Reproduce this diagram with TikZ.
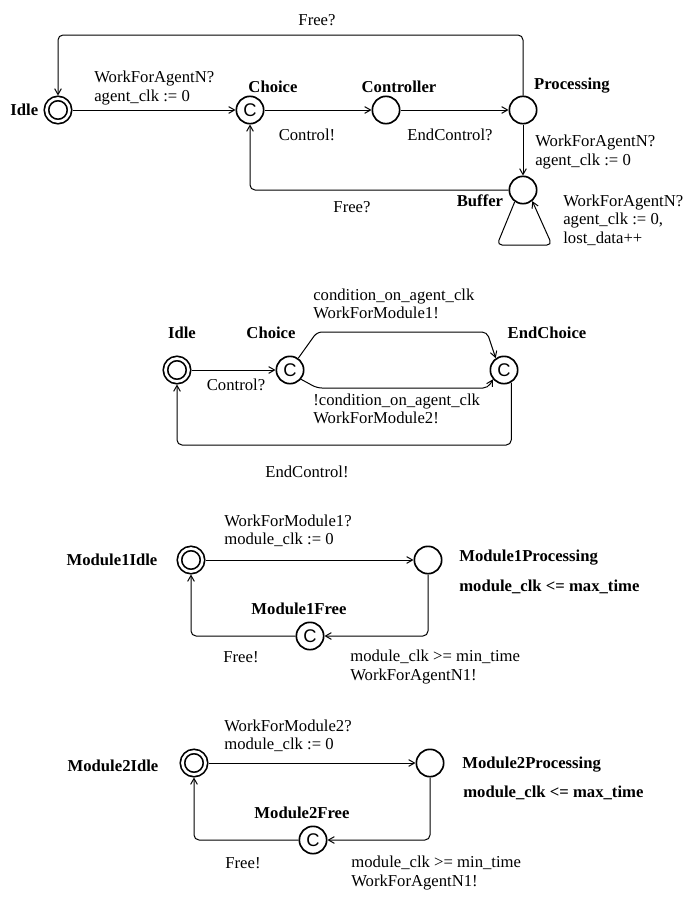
\documentclass[tikz,border=0pt]{standalone}
\usepackage{fontspec}
\setmainfont{Liberation Serif}
\setsansfont{Liberation Sans}
\usetikzlibrary{positioning,arrows.meta}

\begin{document}
\begin{tikzpicture}[
  x=0.6pt, y=-0.6pt,
  loc/.style={circle, draw, line width=1pt, minimum size=16.4pt, inner sep=0pt},
  initloc/.style={loc, minimum size=13.8pt, double, double distance=1.6pt, outer sep=1.8pt},
  comloc/.style={loc, font=\fontsize{11}{11}\sffamily},
  hdr/.style={font=\fontsize{10}{11}\selectfont\bfseries, inner sep=0pt},
  lbl/.style={font=\fontsize{10}{11}\selectfont, align=left, inner sep=0pt},
  arr/.style={-{Straight Barb[length=3.5pt, width=4pt]}, line width=0.6pt, rounded corners=3pt}
]
\useasboundingbox (0,0) rectangle (698,899);

% ===== Agent automaton =====
\node[initloc] (idle)   at (58,110)  {};
\node[comloc]  (choice) at (250,110) {C};
\node[loc]     (ctrl)   at (386,110) {};
\node[loc]     (proc)   at (523,110) {};
\node[loc]     (buf)    at (523,190) {};
\coordinate (topy)  at (0,35);
\coordinate (loopl) at (497,245);
\coordinate (loopr) at (552,245);
\draw[arr] (idle) -- (choice);
\draw[arr] (choice) -- (ctrl);
\draw[arr] (ctrl) -- (proc);
\draw[arr] (proc) -- (buf);
\draw[arr] (proc.north) -- (proc.north |- topy) -- (idle.north |- topy) -- (idle.north);
\draw[arr] (buf.west) -- (choice.south |- buf.west) -- (choice.south);
\draw[arr] (buf.235) -- (loopl) -- (loopr) -- (buf.-50);

\node[hdr, left=3pt of idle] (idlen) {Idle};
\node[hdr] (choicen) at (273,87)  {Choice};
\node[hdr] (ctrln)   at (399,87)  {Controller};
\node[hdr] (procn)   at (572,86)  {Processing};
\node[hdr] (bufn)    at (480,201) {Buffer};
\node[lbl] (free1)   at (317,20)  {Free?};
\node[lbl, anchor=west] (work1) at (94,88) {WorkForAgentN?\\agent\_clk := 0};
\node[lbl] (ctl1)    at (307,135) {Control!};
\node[lbl] (endc1)   at (450,135) {EndControl?};
\node[lbl, anchor=west] (work2) at (535,152) {WorkForAgentN?\\agent\_clk := 0};
\node[lbl] (free2)   at (352,207) {Free?};
\node[lbl, anchor=west] (work3) at (563,220) {WorkForAgentN?\\agent\_clk := 0,\\lost\_data++};

% ===== Controller automaton =====
\node[initloc] (idle2)   at (177,370) {};
\node[comloc]  (choice2) at (290,370) {C};
\node[comloc]  (endch)   at (504,370) {C};
\coordinate (up1)   at (317,332);
\coordinate (up2)   at (487,332);
\coordinate (lo1)   at (317,388);
\coordinate (lo2)   at (488,388);
\coordinate (back2) at (177,445);
\draw[arr] (idle2) -- (choice2);
\draw[arr] (choice2.55) -- (up1) -- (up2) -- (endch.125);
\draw[arr] (choice2.-40) -- (lo1) -- (lo2) -- (endch.-140);
\draw[arr] (endch.-60) -- (endch.-60 |- back2) -- (back2) -- (idle2.south);

\node[hdr] (idle2n)   at (182,333) {Idle};
\node[hdr] (choice2n) at (271,333) {Choice};
\node[hdr] (endchn)   at (547,333) {EndChoice};
\node[lbl] (ctl2)     at (236,385) {Control?};
\node[lbl, anchor=west] (cond1) at (313,304) {condition\_on\_agent\_clk\\WorkForModule1!};
\node[lbl, anchor=west] (cond2) at (313,409) {!condition\_on\_agent\_clk\\WorkForModule2!};
\node[lbl] (endc2)    at (307,472) {EndControl!};

% ===== Module 1 =====
\node[initloc] (m1idle) at (191,560) {};
\node[loc]     (m1proc) at (428,560) {};
\node[comloc]  (m1free) at (310,636) {C};
\draw[arr] (m1idle) -- (m1proc);
\draw[arr] (m1proc.south) |- (m1free.east);
\draw[arr] (m1free.west) -| (m1idle.south);

\node[hdr] (m1idlen) at (112,560) {Module1Idle};
\node[hdr, anchor=west] (m1procn) at (459,558) {Module1Processing};
\node[hdr, anchor=west] (m1inv)   at (459,587) {module\_clk <= max\_time};
\node[lbl, anchor=west] (m1work)  at (224,531) {WorkForModule1?\\module\_clk := 0};
\node[hdr] (m1freen) at (299,609) {Module1Free};
\node[lbl] (m1rel)   at (241,657) {Free!};
\node[lbl, anchor=west] (m1done)  at (350,667) {module\_clk >= min\_time\\WorkForAgentN1!};

% ===== Module 2 =====
\node[initloc] (m2idle) at (194,763) {};
\node[loc]     (m2proc) at (430,763) {};
\node[comloc]  (m2free) at (313,840) {C};
\draw[arr] (m2idle) -- (m2proc);
\draw[arr] (m2proc.south) |- (m2free.east);
\draw[arr] (m2free.west) -| (m2idle.south);

\node[hdr] (m2idlen) at (113,766) {Module2Idle};
\node[hdr, anchor=west] (m2procn) at (462,765) {Module2Processing};
\node[hdr, anchor=west] (m2inv)   at (463,793) {module\_clk <= max\_time};
\node[lbl, anchor=west] (m2work)  at (224,736) {WorkForModule2?\\module\_clk := 0};
\node[hdr] (m2freen) at (302,813) {Module2Free};
\node[lbl] (m2rel)   at (243,863) {Free!};
\node[lbl, anchor=west] (m2done)  at (351,873) {module\_clk >= min\_time\\WorkForAgentN1!};

\end{tikzpicture}
\end{document}
